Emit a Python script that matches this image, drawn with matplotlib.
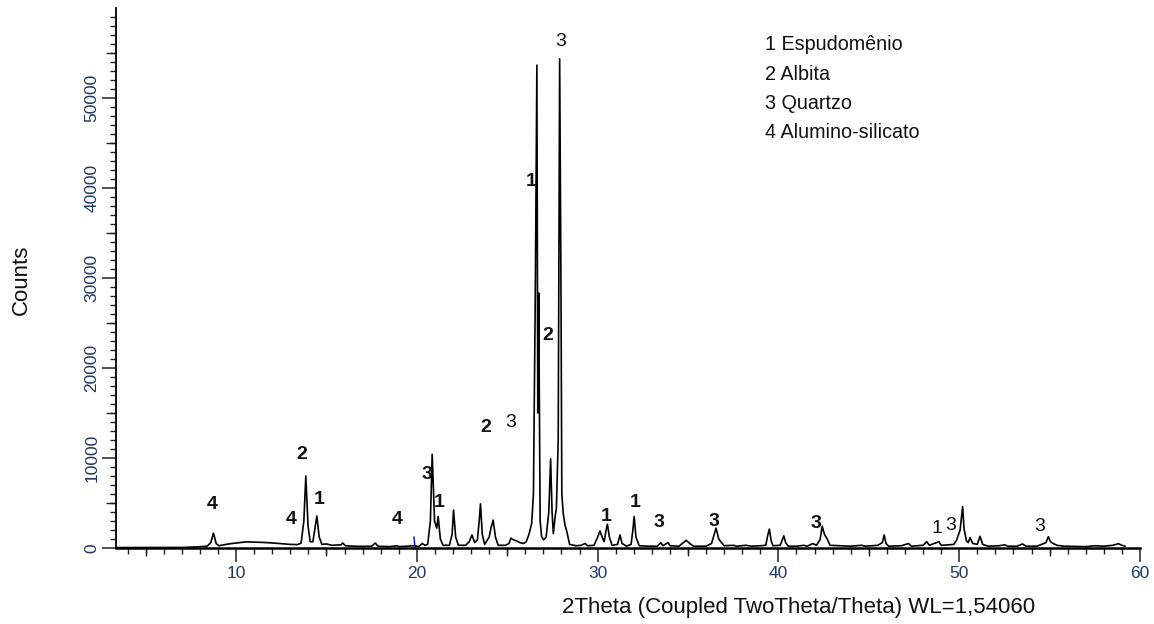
import matplotlib
matplotlib.use("Agg")
import matplotlib.pyplot as plt
from matplotlib.ticker import MultipleLocator, FixedLocator, NullFormatter

plt.rcParams['font.family'] = ['Liberation Sans', 'DejaVu Sans']

# diffractogram (2theta, counts)
tt = [3.4, 5.0, 7.0, 7.8, 8.4, 8.6, 8.75, 8.9, 9.05, 9.3, 9.7, 10.2, 10.6, 11.0, 11.5,
      12.0, 12.5, 13.0, 13.4, 13.6, 13.75, 13.86, 13.98, 14.1, 14.25, 14.35, 14.47, 14.6,
      14.75, 15.0, 15.3, 15.8, 15.9, 16.05, 16.5, 17.0, 17.5, 17.7, 17.85, 18.5, 18.9,
      19.0, 19.5, 19.9, 20.1, 20.3, 20.45, 20.6, 20.75, 20.85, 20.98, 21.1, 21.18, 21.3,
      21.45, 21.8, 21.95, 22.03, 22.15, 22.3, 22.7, 22.9, 23.05, 23.2, 23.35, 23.45, 23.52,
      23.62, 23.75, 23.9, 24.0, 24.1, 24.22, 24.35, 24.5, 24.9, 25.1, 25.2, 25.35, 25.5,
      25.7, 25.9, 26.05, 26.2, 26.35, 26.45, 26.56, 26.64, 26.69, 26.74, 26.82, 26.9, 27.0,
      27.15, 27.3, 27.4, 27.48, 27.55, 27.65, 27.72, 27.82, 27.9, 27.97, 28.02, 28.1, 28.2,
      28.3, 28.45, 28.8, 29.1, 29.3, 29.45, 29.8, 30.0, 30.13, 30.25, 30.36, 30.45, 30.54,
      30.65, 30.8, 31.1, 31.24, 31.35, 31.6, 31.85, 31.95, 32.02, 32.12, 32.3, 32.8, 33.3,
      33.5, 33.6, 33.9, 34.0, 34.5, 34.9, 35.1, 35.3, 36.0, 36.3, 36.45, 36.55, 36.7, 36.85,
      37.0, 37.5, 37.7, 38.2, 38.5, 39.0, 39.3, 39.42, 39.5, 39.6, 39.7, 40.1, 40.3, 40.4,
      40.55, 41.0, 41.4, 41.6, 41.9, 42.1, 42.3, 42.42, 42.55, 42.7, 42.85, 43.5, 44.0,
      44.6, 44.8, 45.2, 45.5, 45.75, 45.85, 45.95, 46.1, 46.8, 47.2, 47.35, 48.0, 48.2,
      48.35, 48.88, 49.0, 49.4, 49.7, 49.86, 50.05, 50.19, 50.27, 50.4, 50.5, 50.6, 50.75,
      51.0, 51.15, 51.3, 51.6, 52.2, 52.5, 52.7, 53.2, 53.5, 53.7, 54.3, 54.8, 54.93, 55.05,
      55.2, 55.4, 55.8, 57.0, 57.5, 58.0, 58.5, 58.8, 59.0, 59.17]
counts = [50, 50, 60, 120, 200, 600, 1650, 500, 250, 350, 480, 600, 680, 650, 620,
          560, 480, 400, 380, 550, 3000, 8000, 2500, 700, 700, 2000, 3550, 1200,
          400, 450, 300, 350, 550, 250, 200, 180, 200, 550, 200, 150, 250,
          150, 200, 250, 150, 500, 300, 400, 3000, 10400, 3000, 2200, 3500, 1000,
          300, 300, 1500, 4200, 1200, 300, 300, 700, 1450, 600, 900, 3000, 4900,
          1500, 400, 900, 1200, 2200, 3100, 1200, 300, 300, 500, 1100, 900, 800,
          600, 500, 700, 1500, 2700, 6000, 30000, 53600, 15000, 28300, 3000, 1300, 900,
          1200, 4000, 9900, 4000, 1600, 3500, 4400, 12000, 54300, 30000, 6000, 3800, 2500,
          1800, 400, 250, 300, 500, 250, 300, 1200, 1900, 1200, 700, 1800, 2650,
          1200, 300, 400, 1450, 500, 200, 400, 2000, 3500, 1200, 250, 200, 200,
          600, 250, 600, 250, 200, 850, 500, 200, 200, 500, 1500, 2200, 1000, 600,
          250, 300, 200, 300, 200, 250, 300, 1500, 2100, 800, 250, 300, 1350, 600,
          200, 200, 300, 200, 500, 300, 900, 2400, 1500, 1000, 300, 250, 200,
          300, 200, 250, 300, 600, 1450, 500, 200, 250, 500, 200, 300, 700,
          300, 700, 300, 350, 400, 900, 2000, 4600, 2100, 800, 600, 1150, 500,
          400, 1300, 400, 200, 250, 350, 200, 200, 450, 200, 200, 600, 1250, 700,
          500, 300, 200, 150, 250, 200, 300, 480, 300, 200]

# small blue marker near 20 deg
blue_x = [19.84, 19.9]
blue_y = [1200, 100]

# phase numbers over the peaks
lab_text = ["4", "2", "4", "1", "4", "3", "1", "2", "3", "1", "2", "3",
            "1", "1", "3", "3", "3", "1", "3", "3"]
lab_x = [8.70, 13.65, 13.05, 14.60, 18.90, 20.55, 21.22, 23.83, 25.20, 26.30, 27.25, 27.98,
         30.48, 32.05, 33.40, 36.44, 42.10, 48.75, 49.52, 54.47]
lab_y = [4780, 10330, 3140, 5330, 3110, 8110, 5040, 13410, 13910, 40700, 23550, 56200,
         3520, 5040, 2810, 2920, 2670, 2180, 2450, 2360]
lab_bold = [True, True, True, True, True, True, True, True, False, True, True, False,
            True, True, True, True, True, False, False, False]

phases = ["1 Espudomênio", "2 Albita", "3 Quartzo", "4 Alumino-silicato"]

fig = plt.figure(figsize=(11.54, 6.24), dpi=100)
ax = fig.add_axes([116 / 1154, 1 - 548 / 624, 1024 / 1154, 540 / 624])

ax.plot(tt, counts, color="black", lw=1.2)
ax.plot(blue_x, blue_y, color="#1a1aa0", lw=1.1)

for t, x, y, b in zip(lab_text, lab_x, lab_y, lab_bold):
    ax.text(x, y, t, ha="center", va="center", fontsize=14,
            fontweight="bold" if b else "normal", color="#111111")

for i, p in enumerate(phases):
    fig.text(765 / 1154, 1 - (45 + i * 29.3) / 624, p, ha="left", va="center",
             fontsize=14.2, color="#111111")

ax.set_xlim(3.36, 60)
ax.set_ylim(0, 59950)

for s in ["top", "right"]:
    ax.spines[s].set_visible(False)
ax.spines["bottom"].set_linewidth(1.8)
ax.spines["left"].set_linewidth(1.3)

tick_col = "#1f3864"
ax.xaxis.set_major_locator(MultipleLocator(10))
ax.xaxis.set_minor_locator(MultipleLocator(1))
ax.yaxis.set_major_locator(FixedLocator([0, 10000, 20000, 30000, 40000, 50000]))
ax.yaxis.set_minor_locator(MultipleLocator(1000))
ax.tick_params(axis="both", which="major", direction="out", length=10, width=1.1,
               color="#222222")
ax.tick_params(axis="both", which="minor", direction="out", length=4.5, width=1.0,
               color="#222222")
ax.tick_params(axis="x", which="major", labelsize=12.5, pad=3, labelcolor=tick_col)
ax.tick_params(axis="y", which="major", labelsize=12.5, pad=2, labelcolor=tick_col,
               labelrotation=90)
for lb in ax.get_yticklabels():
    lb.set_va("center")

# mid-length ticks at every 5 units / 5000 counts
secx = ax.secondary_xaxis("bottom")
secx.xaxis.set_major_locator(FixedLocator([5, 15, 25, 35, 45, 55]))
secx.xaxis.set_major_formatter(NullFormatter())
secx.tick_params(direction="out", length=6, width=1.0, color="#222222")
secx.spines["bottom"].set_visible(False)
secy = ax.secondary_yaxis("left")
secy.yaxis.set_major_locator(FixedLocator([5000, 15000, 25000, 35000, 45000, 55000]))
secy.yaxis.set_major_formatter(NullFormatter())
secy.tick_params(direction="out", length=7, width=1.0, color="#222222")
secy.spines["left"].set_visible(False)

ax.set_xlabel("2Theta (Coupled TwoTheta/Theta) WL=1,54060", fontsize=16, color="#111111")
ax.xaxis.label.set_ha("right")
ax.xaxis.label.set_va("center")
ax.xaxis.set_label_coords((1035 - 116) / 1024, -(607 - 548) / 540)
ax.set_ylabel("Counts", fontsize=16, color="#111111")
ax.yaxis.label.set_va("center")
ax.yaxis.set_label_coords((21 - 116) / 1024, (548 - 280) / 540)

fig.savefig("out.png", dpi=100, facecolor="white")
